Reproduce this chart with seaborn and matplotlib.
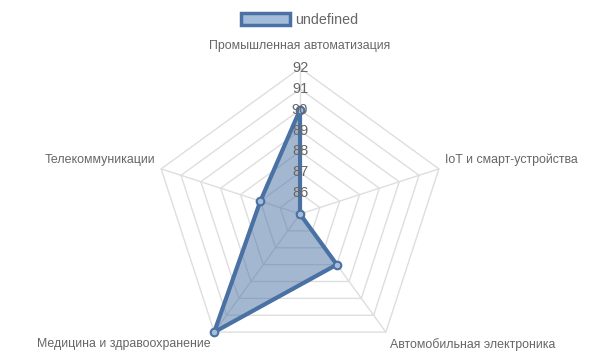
import numpy as np
import matplotlib
matplotlib.use("Agg")
import matplotlib.pyplot as plt
import seaborn as sns
from matplotlib.patches import Patch

categories = ["Промышленная автоматизация", "IoT и смарт-устройства",
              "Автомобильная электроника", "Медицина и здравоохранение",
              "Телекоммуникации"]
values = [90, 85, 88, 92, 87]
series_name = "undefined"
r_min, r_max = 85, 92
tick_values = [86, 87, 88, 89, 90, 91, 92]

sns.set_theme(style="white")
plt.rcParams["font.family"] = ["Liberation Sans", "DejaVu Sans"]

line_color = "#4a71a3"
grid_color = "#dedede"
text_color = "#666666"

fig = plt.figure(figsize=(6, 3.6), dpi=100)
ax = fig.add_axes([0.2567, 0.0, 0.4867, 0.8111], projection="polar")
ax.set_theta_zero_location("N")
ax.set_theta_direction(-1)
ax.set_ylim(r_min, r_max)
ax.axis("off")

n = len(categories)
angles = np.linspace(0, 2 * np.pi, n, endpoint=False)
closed = np.concatenate([angles, angles[:1]])

# grid pentagons
for r in [r_min + 1 + i for i in range(r_max - r_min)]:
    ax.plot(closed, [r] * (n + 1), color=grid_color, lw=1, zorder=1, clip_on=False)
for a in angles:
    ax.plot([a, a], [r_min, r_max], color=grid_color, lw=1, zorder=1, clip_on=False)

vals = np.array(values + values[:1], dtype=float)
ax.fill(closed, vals, color=line_color, alpha=0.5, zorder=2, lw=0)
ax.plot(closed, vals, color=line_color, lw=3, zorder=3, clip_on=False)
ax.scatter(angles, values, s=30, facecolor="#a9bcd6", edgecolor=line_color,
           linewidth=1.5, zorder=4, clip_on=False)

for t in tick_values:
    ax.text(0, t, str(t), ha="center", va="center", fontsize=10.5,
            color=text_color, zorder=5)

offsets = [((0, 22), "center"), ((6, 9), "left"), ((4, -12), "left"),
           ((-4, -12), "right"), ((-6, 9), "right")]
for a, lab, (off, ha) in zip(angles, categories, offsets):
    ax.annotate(lab, xy=(a, r_max), xytext=off, textcoords="offset pixels",
                ha=ha, va="center", fontsize=8.9, color=text_color,
                annotation_clip=False)

handle = Patch(facecolor="#a4bbd9", edgecolor=line_color, linewidth=2.5)
fig.legend([handle], [series_name], loc="upper center",
           bbox_to_anchor=(0.5, 1.0), frameon=False, fontsize=10.3,
           handlelength=3.4, handleheight=0.9, handletextpad=0.4,
           labelcolor=text_color, borderaxespad=0.5)

fig.savefig("out.png", dpi=100)
